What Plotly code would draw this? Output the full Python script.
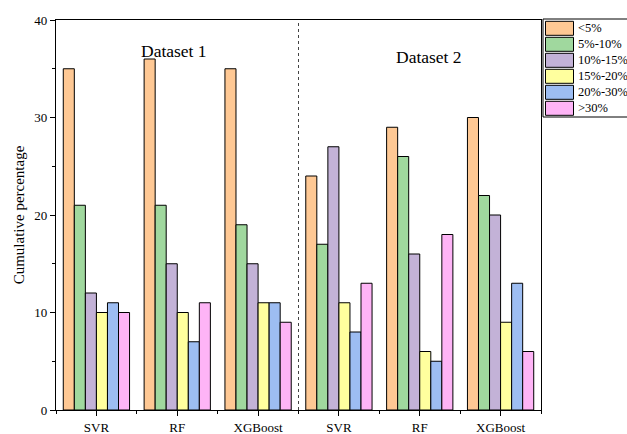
import plotly.graph_objects as go

categories = ["SVR", "RF", "XGBoost", "SVR", "RF", "XGBoost"]
series_names = ["<5%", "5%-10%", "10%-15%", "15%-20%", "20%-30%", ">30%"]
colors = ["#FEC894", "#A0D89E", "#C3B2D7", "#FFFF9E", "#9DBDF2", "#FEB4F6"]
# values per series, across the 6 categories (Dataset 1: first 3, Dataset 2: last 3)
lt5 = [35, 36, 35, 24, 29, 30]
p5_10 = [21, 21, 19, 17, 26, 22]
p10_15 = [12, 15, 15, 27, 16, 20]
p15_20 = [10, 10, 11, 11, 6, 9]
p20_30 = [11, 7, 11, 8, 5, 13]
gt30 = [10, 11, 9, 13, 18, 6]
series_values = [lt5, p5_10, p10_15, p15_20, p20_30, gt30]
dataset_labels = ["Dataset 1", "Dataset 2"]

FONT = "Liberation Serif, Times New Roman, serif"
PAGE_W, PAGE_H = 627, 434
L, R, T, B = 56, 86, 20, 24  # plot area margins in pixels
PW, PH = PAGE_W - L - R, PAGE_H - T - B

xs = list(range(len(categories)))
fig = go.Figure()
for name, vals, col in zip(series_names, series_values, colors):
    fig.add_trace(go.Bar(x=xs, y=vals, name=name,
                         marker=dict(color=col, line=dict(color="black", width=1)),
                         showlegend=False))

def px_x(p):
    return (p - L) / PW

def px_y(p):
    return (PAGE_H - B - p) / PH

# custom legend
shapes = []
annos = []
shapes.append(dict(type="rect", xref="paper", yref="paper", x0=px_x(543), x1=px_x(640), y0=px_y(117), y1=px_y(19),
                   line=dict(color="black", width=1), fillcolor="white", layer="above"))
for i, (name, col) in enumerate(zip(series_names, colors)):
    top = 21.3 + 16 * i
    shapes.append(dict(type="rect", xref="paper", yref="paper", x0=px_x(545.5), x1=px_x(573.5),
                       y0=px_y(top + 14), y1=px_y(top), line=dict(color="black", width=1),
                       fillcolor=col, layer="above"))
    annos.append(dict(xref="paper", yref="paper", x=px_x(575.5), y=px_y(top + 7),
                      text=name.replace("<", "&lt;").replace(">", "&gt;"),
                      showarrow=False, xanchor="left", yanchor="middle",
                      font=dict(family=FONT, size=12.5, color="black")))

# separator
shapes.append(dict(type="line", xref="x", yref="paper", x0=2.5, x1=2.5, y0=0, y1=1,
                   line=dict(color="#444", width=1, dash="dot")))
annos.append(dict(xref="x", yref="paper", x=0.96, y=px_y(39), text=dataset_labels[0], showarrow=False,
                  font=dict(family=FONT, size=17.5, color="black")))
annos.append(dict(xref="x", yref="paper", x=4.11, y=px_y(45), text=dataset_labels[1], showarrow=False,
                  font=dict(family=FONT, size=17.5, color="black")))

fig.update_layout(
    width=PAGE_W, height=PAGE_H,
    margin=dict(l=L, r=R, t=T, b=B, autoexpand=False),
    paper_bgcolor="white", plot_bgcolor="white",
    barmode="group", bargap=0.18, bargroupgap=0,
    font=dict(family=FONT, size=13, color="black"),
    shapes=shapes, annotations=annos, showlegend=False,
    xaxis=dict(range=[-0.5, 5.5], tickvals=xs, ticktext=categories, ticks="outside", ticklen=5,
               tickcolor="black", showline=True, linecolor="black", linewidth=1.2, mirror=True,
               showgrid=False, zeroline=False, tickfont=dict(family=FONT, size=13),
               minor=dict(tickvals=[-0.5, 0.5, 1.5, 2.5, 3.5, 4.5, 5.5], ticks="outside", ticklen=3,
                          tickcolor="black")),
    yaxis=dict(range=[0, 40], tickvals=[0, 10, 20, 30, 40], ticks="outside", ticklen=5, tickcolor="black",
               showline=True, linecolor="black", linewidth=1.2, mirror=True, showgrid=False, zeroline=False,
               tickfont=dict(family=FONT, size=13),
               title=dict(text="Cumulative percentage", font=dict(family=FONT, size=15), standoff=6),
               minor=dict(tickvals=[5, 15, 25, 35], ticks="outside", ticklen=3, tickcolor="black")),
)

fig.write_html("out.html", config={"displayModeBar": False},
               post_script="document.body.style.margin='0';document.body.style.overflow='hidden';")
